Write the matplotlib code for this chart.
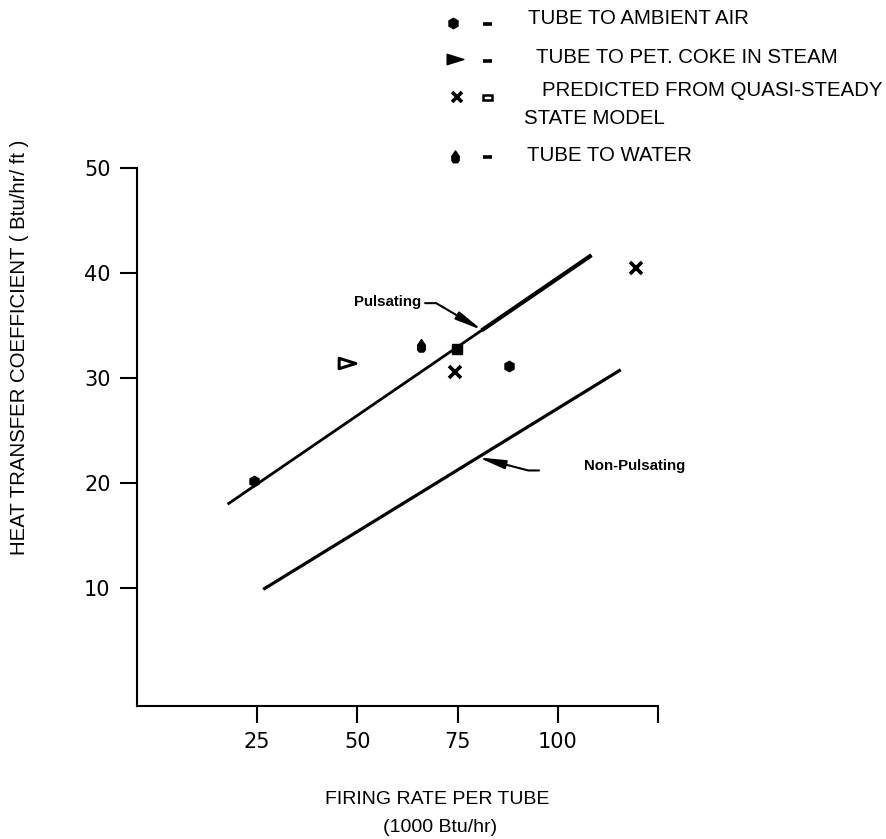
import numpy as np
import matplotlib
matplotlib.use("Agg")
import matplotlib.pyplot as plt
from matplotlib.path import Path
from matplotlib.patches import Rectangle

# correlation lines (1000 Btu/hr, Btu/hr/ft2)
pulse_x = [17.6, 108.4]
pulse_y = [18.0, 41.7]
nonpulse_x = [26.5, 115.7]
nonpulse_y = [9.9, 30.8]

# measured / predicted points
air_x = [24.2, 87.9]
air_y = [20.2, 31.2]
coke_x = [47.3]
coke_y = [31.4]
pred_x = [74.3, 119.5]
pred_y = [30.6, 40.45]
water_x = [65.8]
water_y = [33.1]
sq_x = [74.9]
sq_y = [32.8]

xticks = [25, 50, 75, 100, 125]
xticklabels = ["25", "50", "75", "100", ""]
yticks = [10, 20, 30, 40, 50]

legend_labels = ["TUBE TO AMBIENT AIR", "TUBE TO PET. COKE IN STEAM",
                 "PREDICTED FROM QUASI-STEADY", "TUBE TO WATER"]

txt_font = "Liberation Sans"

# custom markers
tri_r = Path([(1, 0), (-1, 0.62), (-1, -0.62), (1, 0)],
             [Path.MOVETO, Path.LINETO, Path.LINETO, Path.CLOSEPOLY])
drop = Path([(0, 1.0), (0.3, 0.55), (0.55, 0.2), (0.55, -0.5), (0.3, -0.8),
             (-0.3, -0.8), (-0.55, -0.5), (-0.55, 0.2), (-0.3, 0.55), (0, 1.0)],
            [Path.MOVETO] + [Path.LINETO] * 8 + [Path.CLOSEPOLY])

W, H = 886, 839
fig = plt.figure(figsize=(W / 100, H / 100), dpi=100)
ax = fig.add_axes([137 / W, 1 - 706 / H, (658 - 137) / W, (706 - 168) / H])

ax.plot(pulse_x, pulse_y, color="k", lw=2.0, solid_capstyle="butt")
xt = 81.0
ax.plot([xt, pulse_x[1]], [np.interp(xt, pulse_x, pulse_y), pulse_y[1]],
        color="k", lw=3.0, solid_capstyle="butt")
ax.plot(nonpulse_x, nonpulse_y, color="k", lw=2.3, solid_capstyle="butt")

ax.plot(air_x, air_y, ls="none", marker="h", ms=7.5, color="k")
ax.plot(coke_x, coke_y, ls="none", marker=tri_r, ms=12, mfc="white", mec="k", mew=2.2)
ax.plot(pred_x, pred_y, ls="none", marker="x", ms=9, color="k", mew=2.6)
ax.plot(water_x, water_y, ls="none", marker=drop, ms=10, color="k")
ax.plot(sq_x, sq_y, ls="none", marker="s", ms=6.5, color="k")

# arrows
ah = "-|>,head_length=0.8,head_width=0.13"
ptip = 81.1
ax.annotate("", xy=(ptip, np.interp(ptip, pulse_x, pulse_y)),
            xytext=(-41.0, 19.4), textcoords="offset points",
            arrowprops=dict(arrowstyle=ah, color="k", lw=1.5, mutation_scale=20,
                            shrinkA=0, shrinkB=0,
                            connectionstyle="angle,angleA=0,angleB=149.6,rad=0"))
ax.annotate("Pulsating", xy=(ptip, np.interp(ptip, pulse_x, pulse_y)),
            xytext=(-44.0, 20.0), textcoords="offset points", ha="right", va="center",
            fontsize=10.8, fontweight="bold", family=txt_font)
ntip = 80.1
ax.annotate("", xy=(ntip, np.interp(ntip, nonpulse_x, nonpulse_y)),
            xytext=(43.9, -9.4), textcoords="offset points",
            arrowprops=dict(arrowstyle=ah, color="k", lw=1.5, mutation_scale=20,
                            shrinkA=0, shrinkB=0,
                            connectionstyle="angle,angleA=0,angleB=165.4,rad=0"))
ax.annotate("Non-Pulsating", xy=(ntip, np.interp(ntip, nonpulse_x, nonpulse_y)),
            xytext=(76.0, -6.5), textcoords="offset points", ha="left", va="center",
            fontsize=10.8, fontweight="bold", family=txt_font)

ax.set_xlim(-5, 125)
ax.set_ylim(-1.2, 50)
ax.set_xticks(xticks)
ax.set_xticklabels(xticklabels)
ax.set_yticks(yticks)
ax.spines["top"].set_visible(False)
ax.spines["right"].set_visible(False)
for s in ["left", "bottom"]:
    ax.spines[s].set_linewidth(1.5)
ax.tick_params(direction="out", length=12.5, width=1.5, labelsize=15, pad=6.5)
for lab in ax.get_xticklabels() + ax.get_yticklabels():
    lab.set_family("DejaVu Sans")

fig.text(437 / W, 1 - 800 / H, "FIRING RATE PER TUBE", ha="center", va="center",
         fontsize=14, family=txt_font)
fig.text(440 / W, 1 - 827 / H, "(1000 Btu/hr)", ha="center", va="center",
         fontsize=14, family=txt_font)
fig.text(20 / W, 1 - 347 / H, "HEAT TRANSFER COEFFICIENT ( Btu/hr/ ft )", rotation=90,
         ha="center", va="center", fontsize=14.7, family=txt_font)

# legend drawn in pixel space
lax = fig.add_axes([0, 0, 1, 1])
lax.set_xlim(0, W)
lax.set_ylim(H, 0)
lax.axis("off")
lax.plot([453], [23], marker="h", ms=7.5, color="k", ls="none")
lax.plot([455], [59], marker=tri_r, ms=12, color="k", ls="none")
lax.plot([457], [97], marker="x", ms=7, mew=2.6, color="k", ls="none")
lax.plot([455], [157], marker=drop, ms=9.5, color="k", ls="none")
for yy in [24, 61, 157]:
    lax.plot([483, 492], [yy, yy], color="k", lw=2.6, solid_capstyle="butt")
lax.add_patch(Rectangle((483, 94.5), 9, 5, fc="white", ec="k", lw=1.8))
leg_pos = [(528, 19), (536, 57.5), (542, 90), (527, 155.5)]
for (lx, ly), lab in zip(leg_pos, legend_labels):
    lax.text(lx, ly, lab, ha="left", va="center", fontsize=14.7, family=txt_font)
lax.text(524, 118.5, "STATE MODEL", ha="left", va="center", fontsize=14.7, family=txt_font)

fig.savefig("out.png", dpi=100)
